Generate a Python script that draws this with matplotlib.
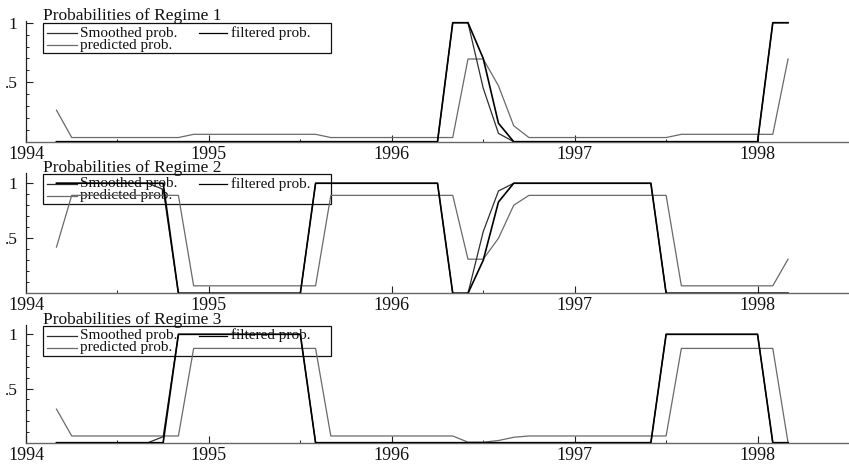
import numpy as np
import matplotlib
matplotlib.use("Agg")
import matplotlib.pyplot as plt
from matplotlib.transforms import Affine2D
from matplotlib.patches import Rectangle
from matplotlib.lines import Line2D

# Monthly sample 1994(3) - 1998(3)
start_year = 1994
start_month = 3
n_obs = 49
dates = start_year + (start_month - 1 + np.arange(n_obs)) / 12.0

# Regime 1
smoothed1 = [0]*26 + [1, 1, 0.45, 0.07] + [0]*17 + [1, 1]
filtered1 = [0]*26 + [1, 1, 0.70, 0.155] + [0]*17 + [1, 1]
predicted1 = ([0.265] + [0.035]*8 + [0.062]*9 + [0.035]*9 +
              [0.695, 0.695, 0.47, 0.134] + [0.035]*10 + [0.062]*7 + [0.695])

# Regime 2
smoothed2 = ([1]*7 + [0.945] + [0]*9 + [1]*9 + [0, 0, 0.56, 0.93] +
             [1]*10 + [0]*9)
filtered2 = ([1]*8 + [0]*9 + [1]*9 + [0, 0, 0.30, 0.83] +
             [1]*10 + [0]*9)
predicted2 = ([0.42] + [0.89]*8 + [0.068]*9 + [0.89]*9 +
              [0.31, 0.31, 0.50, 0.80] + [0.89]*10 + [0.068]*7 + [0.31])

# Regime 3
smoothed3 = [0]*7 + [0.055] + [1]*9 + [0]*23 + [1]*7 + [0, 0]
filtered3 = [0]*8 + [1]*9 + [0]*23 + [1]*7 + [0, 0]
predicted3 = ([0.31] + [0.062]*8 + [0.87]*9 + [0.062]*9 +
              [0.005, 0.005, 0.02, 0.05] + [0.062]*10 + [0.87]*7 + [0.0])

titles = ["Probabilities of Regime 1", "Probabilities of Regime 2",
          "Probabilities of Regime 3"]
legend_labels = ["Smoothed prob.", "filtered prob.", "predicted prob."]
year_ticks = [1994, 1995, 1996, 1997, 1998]

W, H = 849, 467
fig = plt.figure(figsize=(W / 100, H / 100), dpi=100)
fig.patch.set_facecolor("white")
# pixel coordinates measured from the top-left corner
px = Affine2D().scale(1.0 / W, -1.0 / H).translate(0, 1) + fig.transFigure

FONT = "Liberation Serif"
c_smooth = "#2e2e2e"
c_filt = "#000000"
c_pred = "#6a6a6a"

# panel geometry in pixels: (axis bottom y, axis top y, y max value)
panels = [(141.7, 20.7, 1.017), (293.3, 172.7, 1.096), (442.7, 325.0, 1.086)]
title_y = [19.5, 171.5, 323.5]
legend_top = [23.0, 174.0, 325.5]
x_left, x_right = 26.0, 849.0
x_min, x_max = 1994.0, 1994.0 + (x_right - x_left) / 185.0

series = [(smoothed1, filtered1, predicted1),
          (smoothed2, filtered2, predicted2),
          (smoothed3, filtered3, predicted3)]

for k, ((yb, yt, ymax), (sm, fi, pr)) in enumerate(zip(panels, series)):
    ax = fig.add_axes([x_left / W, 1 - yb / H, (x_right - x_left) / W,
                       (yb - yt) / H])
    ax.set_facecolor("none")
    ax.plot(dates, pr, color=c_pred, lw=0.9, zorder=3)
    ax.plot(dates, sm, color=c_smooth, lw=0.9, zorder=4)
    ax.plot(dates, fi, color=c_filt, lw=1.2, zorder=5)
    ax.set_xlim(x_min, x_max)
    ax.set_ylim(0, ymax)

    for side in ("top", "right"):
        ax.spines[side].set_visible(False)
    ax.spines["left"].set_color("#222222")
    ax.spines["bottom"].set_color("#666666")
    ax.spines["left"].set_linewidth(0.9)
    ax.spines["bottom"].set_linewidth(1.0)

    ax.set_yticks([0.5, 1.0])
    ax.set_yticklabels([".5", "1"])
    ax.set_yticks(np.arange(0.1, 1.01, 0.1), minor=True)
    ax.set_xticks(year_ticks)
    ax.set_xticklabels([str(y) for y in year_ticks])
    ax.set_xticks(np.arange(1994.5, 1998.6, 1.0), minor=True)
    ax.tick_params(axis="both", which="major", direction="in", length=5,
                   width=0.8, color="#222222")
    ax.tick_params(axis="both", which="minor", direction="in", length=2.5,
                   width=0.7, color="#222222")
    ax.tick_params(axis="x", which="major", pad=3)
    ax.tick_params(axis="y", which="major", pad=6)
    for lab in ax.get_xticklabels():
        lab.set_fontfamily(FONT)
        lab.set_fontsize(13)
        lab.set_color("#111111")
    for lab in ax.get_yticklabels():
        lab.set_fontfamily(FONT)
        lab.set_fontsize(12.5)
        lab.set_color("#111111")

    # panel heading
    ax.text(43, title_y[k], titles[k], transform=px, fontfamily=FONT,
            fontsize=12.5, color="#111111", ha="left", va="baseline",
            clip_on=False, zorder=1)

    # legend box, drawn underneath the data lines
    lt = legend_top[k]
    ax.add_patch(Rectangle((43, lt), 288, 30, transform=px, fill=False,
                           edgecolor="#111111", lw=0.9, clip_on=False,
                           zorder=1))
    entries = [(47, 77, 80, lt + 10, c_smooth, legend_labels[0]),
               (199, 227, 231, lt + 10, c_filt, legend_labels[1]),
               (47, 77, 80, lt + 22, c_pred, legend_labels[2])]
    for x0, x1, xt, yy, col, lab in entries:
        ax.add_line(Line2D([x0, x1], [yy, yy], transform=px, color=col,
                           lw=0.9, clip_on=False, zorder=1))
        ax.text(xt, yy, lab, transform=px, fontfamily=FONT, fontsize=11,
                color="#111111", ha="left", va="center", clip_on=False,
                zorder=1)

fig.savefig("out.png", dpi=100, facecolor="white")
